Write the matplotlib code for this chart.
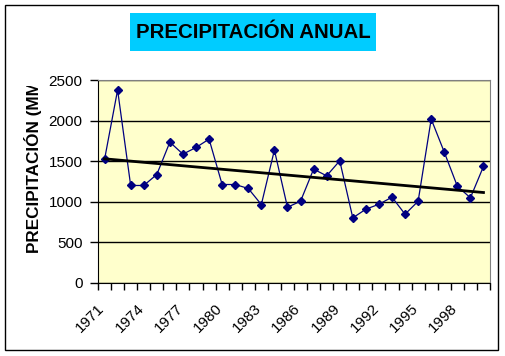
import numpy as np
import matplotlib.pyplot as plt
import matplotlib.transforms as mtransforms
from matplotlib.patches import Rectangle

plt.rcParams['font.family'] = ['Liberation Sans', 'DejaVu Sans']

# Datos
anios = list(range(1971, 2001))
precipitacion = [1521, 2377, 1201, 1201, 1336, 1735, 1587, 1669, 1772, 1213,
                 1213, 1164, 966, 1637, 933, 1007, 1402, 1320, 1505, 802,
                 909, 970, 1057, 847, 1007, 2019, 1612, 1192, 1049, 1435]
etiquetas = [str(a) for a in range(1971, 2000, 3)]

W, H = 505, 356
fig = plt.figure(figsize=(W / 100, H / 100), dpi=100)

# Marco exterior
fig.patches.append(Rectangle((5 / W, 1 - 350 / H), 493 / W, 345 / H,
                             transform=fig.transFigure, fill=False,
                             edgecolor='black', linewidth=1))

# Caja del título
fig.patches.append(Rectangle((130 / W, 1 - 51 / H), 246 / W, 38 / H,
                             transform=fig.transFigure, facecolor='#00CCFF',
                             edgecolor='none'))
fig.text(253 / W, 1 - 32 / H, 'PRECIPITACIÓN ANUAL', ha='center', va='center',
         fontsize=14.7, fontweight='bold', color='black')

ax = fig.add_axes([98 / W, 1 - 283 / H, 392 / W, 203 / H])
ax.set_facecolor('#FFFFCC')

x = np.arange(len(anios))
ax.plot(x, precipitacion, color='#000080', linewidth=0.9, marker='D',
        markersize=4.5, markerfacecolor='#000080', markeredgecolor='#000080',
        zorder=3)

# Línea de tendencia lineal
m, b = np.polyfit(x, precipitacion, 1)
ax.plot(x, m * x + b, color='black', linewidth=2, zorder=4)

ax.set_xlim(-0.5, len(anios) - 0.5)
ax.set_ylim(0, 2500)
ax.set_yticks(range(0, 2501, 500))
ax.yaxis.grid(True, color='black', linewidth=1)
ax.set_axisbelow(True)
ax.tick_params(axis='y', direction='out', length=6, width=1, labelsize=11,
               pad=5)

# Marcas entre categorías y etiquetas cada 3 años
ax.set_xticks(np.arange(-0.5, len(anios), 1), minor=True)
ax.set_xticks(np.arange(0, len(anios), 3))
ax.set_xticklabels(etiquetas, rotation=45, ha='right', va='top',
                   rotation_mode='anchor', fontsize=11)
ax.tick_params(axis='x', which='major', length=0, pad=13)
ax.tick_params(axis='x', which='minor', direction='out', length=5, width=1)
desplaza = mtransforms.ScaledTranslation(-7 / 100, 0, fig.dpi_scale_trans)
for lab in ax.get_xticklabels():
    lab.set_transform(lab.get_transform() + desplaza)

for s in ['top', 'right']:
    ax.spines[s].set_color('#808080')
for s in ['left', 'bottom']:
    ax.spines[s].set_color('black')

# Etiqueta del eje Y (recortada como en el original)
yl = fig.text(33 / W, 1 - 253 / H, 'PRECIPITACIÓN (MM)', rotation=90,
              ha='center', va='bottom', fontsize=12.3, fontweight='bold',
              clip_on=True)
caja = mtransforms.TransformedBbox(
    mtransforms.Bbox([[0, 0], [1, 1 - 86 / H]]), fig.transFigure)
yl.set_clip_box(caja)

fig.savefig('out.png', dpi=100)
